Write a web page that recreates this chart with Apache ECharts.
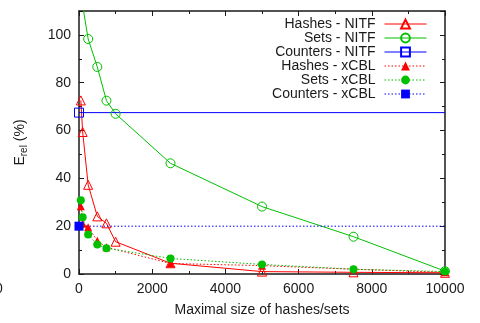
<!DOCTYPE html>
<html>
<head>
<meta charset="utf-8">
<script src="https://cdn.jsdelivr.net/npm/echarts@6/dist/echarts.min.js"></script>
<style>
  html, body { margin: 0; padding: 0; background: #fff; }
  #chart { width: 480px; height: 323px; }
</style>
</head>
<body>
<div id="chart"></div>
<script>
// hash/set sizes on the x axis
const sizes = [50, 100, 250, 500, 750, 1000, 2500, 5000, 7500, 10000];
const hashesNitf = [72.6, 59.4, 37.3, 24.1, 21.2, 13.5, 4.5, 1.0, 0.7, 0.5];
const setsNitf = [117, null, 98.3, 86.6, 72.5, 67.0, 46.3, 28.2, 15.6, 1.2];
const hashesXcbl = [28.3, 21.0, 19.6, 13.9, 11.2, null, 4.4, 3.5, 2.0, 0.7];
const setsXcbl = [30.8, 23.7, 16.5, 12.3, 10.8, null, 6.5, 4.0, 2.0, 1.0];
// counters do not depend on the size: a flat line
const countersX = [0, 10000];
const countersNitf = [67.5, 67.5];
const countersXcbl = [20, 20];

const xTicks = [0, 2000, 4000, 6000, 8000, 10000];
const yTicks = [0, 20, 40, 60, 80, 100];

const font = "'Liberation Sans', Arial, sans-serif";
const ink = '#1a1a1a';
const RED = '#ff0000', GREEN = '#00c000', BLUE = '#0000ff';

const pairs = (xs, ys) => xs.map((x, i) => [x, ys[i]]);

function lineSeries(name, xs, ys, color, symbol, size, hollow, dotted) {
  return {
    name,
    type: 'line',
    data: pairs(xs, ys),
    connectNulls: true,
    symbol,
    symbolSize: size,
    clip: true,
    animation: false,
    lineStyle: { color, width: 1, type: dotted ? [1.5, 2] : 'solid' },
    itemStyle: hollow
      ? { color: 'rgba(255,255,255,0)', borderColor: color, borderWidth: 1 }
      : { color, borderWidth: 0 },
    emphasis: { disabled: true }
  };
}

// counters: marker only on the first point
function counterSeries(name, ys, color, symbol, hollow, dotted) {
  const s = lineSeries(name, countersX, ys, color, symbol, 9, hollow, dotted);
  s.data = pairs(countersX, ys).map((p, i) => i === 0 ? p : { value: p, symbol: 'none' });
  return s;
}

const chart = echarts.init(document.getElementById('chart'), null, { renderer: 'canvas' });

const baseAxis = () => ({
  axisLine: { show: true, onZero: false, lineStyle: { color: ink, width: 1.5 } },
  axisTick: { show: true, inside: true, length: 5, lineStyle: { color: ink, width: 1 } },
  minorTick: { show: true, splitNumber: 2, length: 3, lineStyle: { color: ink, width: 1 } },
  splitLine: { show: false },
  minorSplitLine: { show: false }
});

chart.setOption({
  backgroundColor: '#fff',
  textStyle: { fontFamily: font },
  grid: { left: 79, right: 35, top: 11, bottom: 49 },
  legend: {
    orient: 'vertical',
    right: 48,
    top: 12,
    align: 'right',
    itemWidth: 42,
    itemHeight: 11,
    itemGap: 0,
    selectedMode: false,
    lineStyle: { width: 1 },
    textStyle: { fontFamily: font, fontSize: 14, color: ink, lineHeight: 11, padding: [0, 4, 0, 0] },
    data: ['Hashes - NITF', 'Sets - NITF', 'Counters - NITF', 'Hashes - xCBL', 'Sets - xCBL', 'Counters - xCBL']
  },
  xAxis: [
    Object.assign(baseAxis(), {
      type: 'value', min: 0, max: 10000, interval: 2000,
      name: 'Maximal size of hashes/sets',
      nameLocation: 'middle', nameGap: 29,
      nameTextStyle: { fontFamily: font, fontSize: 14, color: ink },
      axisLabel: {
        fontFamily: font, fontSize: 14, color: ink, margin: 8,
        formatter: v => xTicks.includes(v) ? String(v) : ''
      }
    }),
    Object.assign(baseAxis(), {
      type: 'value', min: 0, max: 10000, interval: 2000, position: 'top',
      axisLabel: { show: false }
    })
  ],
  yAxis: [
    Object.assign(baseAxis(), {
      type: 'value', min: 0, max: 110, interval: 20,
      name: '{e|E}{s|rel}{e| (%)}',
      nameLocation: 'middle', nameRotate: 90, nameGap: 50,
      nameTextStyle: {
        rich: {
          e: { fontFamily: font, fontSize: 14, color: ink },
          s: { fontFamily: font, fontSize: 10, color: ink, padding: [7, 0, 0, 0] }
        }
      },
      axisLabel: {
        fontFamily: font, fontSize: 14, color: ink, margin: 8,
        formatter: v => yTicks.includes(v) ? String(v) : ''
      }
    }),
    Object.assign(baseAxis(), {
      type: 'value', min: 0, max: 110, interval: 20, position: 'right',
      axisLabel: { show: false }
    })
  ],
  graphic: [{
    type: 'text', left: -5, top: 282,
    style: { text: '0', font: '14px ' + font, fill: ink }
  }],
  series: [
    lineSeries('Hashes - NITF', sizes, hashesNitf, RED, 'triangle', 9, true, false),
    lineSeries('Sets - NITF', sizes, setsNitf, GREEN, 'circle', 9, true, false),
    counterSeries('Counters - NITF', countersNitf, BLUE, 'rect', true, false),
    lineSeries('Hashes - xCBL', sizes, hashesXcbl, RED, 'triangle', 8, false, true),
    lineSeries('Sets - xCBL', sizes, setsXcbl, GREEN, 'circle', 8, false, true),
    counterSeries('Counters - xCBL', countersXcbl, BLUE, 'rect', false, true)
  ]
});
</script>
</body>
</html>
